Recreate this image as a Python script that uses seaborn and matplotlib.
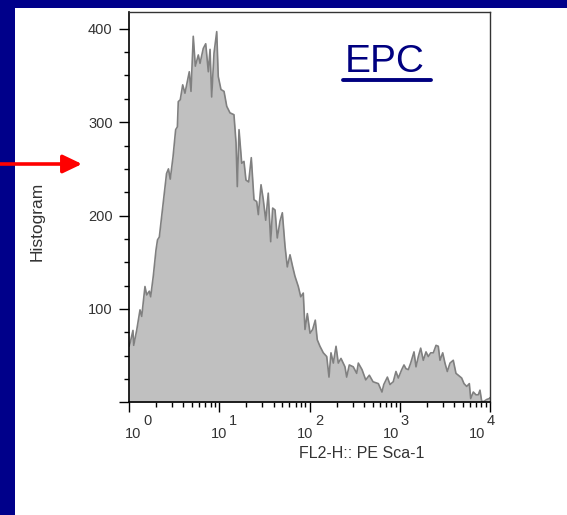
import numpy as np
import pandas as pd
import matplotlib
matplotlib.use('Agg')
import matplotlib.pyplot as plt
import seaborn as sns
from matplotlib.patches import Rectangle
from matplotlib.lines import Line2D
from matplotlib.ticker import MultipleLocator, LogLocator, NullFormatter

# Estilo
sns.set_style('ticks')
plt.rcParams['font.family'] = ['Liberation Sans', 'DejaVu Sans']

log_fl2 = [0.000, 0.011, 0.044, 0.052, 0.085, 0.122, 0.141, 0.177, 0.196, 0.225,
           0.240, 0.269, 0.299, 0.316, 0.336, 0.416, 0.437, 0.457, 0.488, 0.517,
           0.536, 0.546, 0.568, 0.595, 0.620, 0.668, 0.687, 0.712, 0.735, 0.768,
           0.787, 0.823, 0.850, 0.879, 0.898, 0.916, 0.942, 0.972, 0.989, 1.019,
           1.053, 1.083, 1.119, 1.163, 1.186, 1.200, 1.219, 1.249, 1.274, 1.296,
           1.326, 1.355, 1.385, 1.415, 1.433, 1.463, 1.488, 1.515, 1.543, 1.570,
           1.592, 1.618, 1.643, 1.673, 1.699, 1.729, 1.754, 1.784, 1.814, 1.839,
           1.876, 1.903, 1.931, 1.950, 1.976, 2.006, 2.035, 2.064, 2.086, 2.116,
           2.153, 2.191, 2.216, 2.238, 2.264, 2.294, 2.319, 2.349, 2.393, 2.412,
           2.441, 2.485, 2.523, 2.541, 2.582, 2.623, 2.663, 2.704, 2.763, 2.803,
           2.823, 2.863, 2.892, 2.928, 2.958, 2.984, 3.022, 3.047, 3.069, 3.095,
           3.121, 3.158, 3.180, 3.206, 3.232, 3.261, 3.291, 3.316, 3.343, 3.372,
           3.402, 3.427, 3.446, 3.476, 3.501, 3.527, 3.557, 3.593, 3.623, 3.649,
           3.686, 3.712, 3.742, 3.771, 3.786, 3.815, 3.845, 3.870, 3.889, 3.908,
           3.934, 3.963, 3.992, 4.000]
counts = [60, 63, 77, 61, 77, 99, 92, 124, 115, 119,
          113, 135, 163, 174, 177, 245, 250, 239, 263, 292,
          295, 322, 324, 340, 331, 354, 333, 392, 360, 372,
          363, 379, 384, 354, 378, 327, 374, 397, 349, 335,
          333, 317, 310, 308, 278, 231, 292, 256, 258, 238,
          236, 262, 217, 215, 201, 233, 217, 195, 224, 172,
          208, 206, 176, 194, 203, 167, 145, 158, 145, 135,
          124, 113, 117, 78, 95, 74, 78, 88, 67, 60,
          53, 49, 27, 53, 42, 60, 42, 47, 38, 27,
          40, 38, 31, 42, 35, 24, 29, 22, 20, 11,
          19, 27, 19, 22, 33, 26, 35, 40, 36, 35,
          42, 54, 38, 49, 58, 45, 54, 49, 53, 53,
          61, 60, 45, 53, 42, 33, 42, 45, 31, 29,
          26, 20, 17, 20, 4, 11, 8, 8, 13, 1,
          1, 3, 4, 5]

decades = [0, 1, 2, 3, 4]
y_ticks = [0, 100, 200, 300, 400]
y_labels = ['', '100', '200', '300', '400']

df = pd.DataFrame({'FL2-H': 10 ** np.array(log_fl2), 'count': counts})

W, H = 567, 515
fig = plt.figure(figsize=(W / 100, H / 100), dpi=100, facecolor='#00008a')
fig.add_artist(Rectangle((15 / W, 0), 1 - 15 / W, 1 - 8 / H, transform=fig.transFigure,
                         facecolor='white', edgecolor='none', zorder=-10))

ax = fig.add_axes([129 / W, (H - 402.3) / H, (490 - 129) / W, (402.3 - 12) / H])
ax.fill_between(df['FL2-H'], df['count'], color='#c0c0c0', lw=0)
sns.lineplot(data=df, x='FL2-H', y='count', color='#808080', lw=1.2,
             estimator=None, sort=False, ax=ax)
ax.set_xscale('log')
ax.set_xlim(1, 1e4)
ax.set_ylim(0, 418)
ax.set_xlabel('')
ax.set_ylabel('')

# Ejes y ticks
for s in ['left', 'bottom']:
    ax.spines[s].set_linewidth(1.2)
    ax.spines[s].set_color('black')
for s in ['top', 'right']:
    ax.spines[s].set_linewidth(1.0)
    ax.spines[s].set_color('#333333')

ax.set_yticks(y_ticks)
ax.set_yticklabels(y_labels)
ax.yaxis.set_minor_locator(MultipleLocator(25))
ax.xaxis.set_major_locator(LogLocator(base=10, numticks=10))
ax.xaxis.set_minor_locator(LogLocator(base=10, subs=range(2, 10), numticks=20))
ax.xaxis.set_major_formatter(NullFormatter())
ax.xaxis.set_minor_formatter(NullFormatter())
ax.tick_params(which='major', length=7.2, width=1.0, color='black',
               labelsize=10.5, labelcolor='#333333')
ax.tick_params(which='minor', length=3.6, width=1.0, color='black')
ax.tick_params(axis='y', pad=4.5)

# Etiquetas 10^k
for k in decades:
    dx = (4.4 - 4.35 * k) * 0.72
    ax.annotate('10', xy=(10 ** k, 0), xycoords=('data', 'axes fraction'),
                xytext=(dx, -25.7), textcoords='offset points',
                ha='center', va='baseline', fontsize=10.5, color='#333333')
    ax.annotate(str(k), xy=(10 ** k, 0), xycoords=('data', 'axes fraction'),
                xytext=(dx + 7.0, -16.3), textcoords='offset points',
                ha='left', va='baseline', fontsize=10.5, color='#333333')

fig.text(299 / W, 1 - 454 / H, 'FL2-H:: PE Sca-1', ha='left', va='center',
         fontsize=11.5, color='#333333')
fig.text(37 / W, 1 - 221 / H, 'Histogram', rotation=90, ha='center', va='center',
         fontsize=12.5, color='#333333')

# Título EPC subrayado
fig.text(345 / W, 1 - 71.7 / H, 'EPC', ha='left', va='baseline',
         fontsize=28, color='#000080')
fig.add_artist(Line2D([343 / W, 431 / W], [1 - 80 / H, 1 - 80 / H],
                      transform=fig.transFigure, color='#000080', lw=2.8))

# Flecha roja
fig.add_artist(matplotlib.patches.FancyArrowPatch(
    (0, 1 - 164 / H), (82 / W, 1 - 164 / H), transform=fig.transFigure,
    arrowstyle='-|>,head_length=1.15,head_width=0.55', mutation_scale=10,
    color='#ff0000', lw=2.6, shrinkA=0, shrinkB=0))

fig.savefig('out.png', dpi=100, facecolor=fig.get_facecolor())
